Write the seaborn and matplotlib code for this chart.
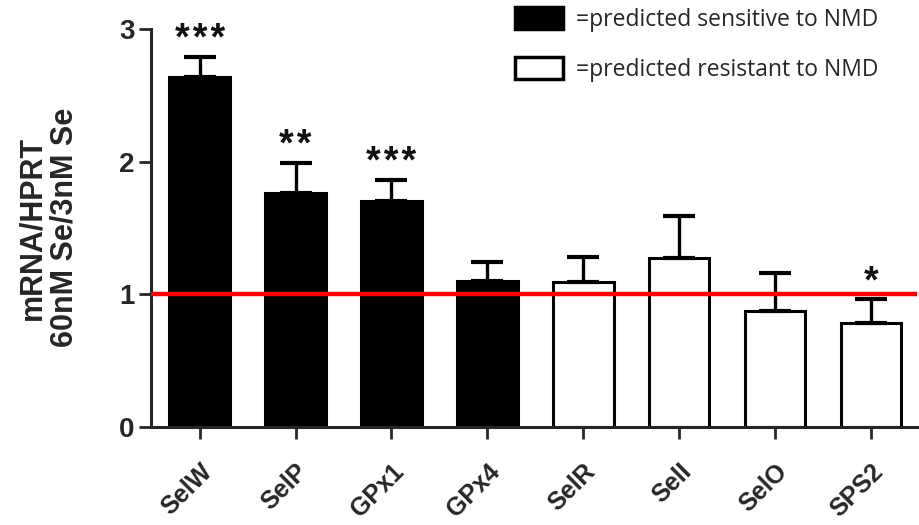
import numpy as np
import pandas as pd
import matplotlib
matplotlib.use("Agg")
import matplotlib.pyplot as plt
import seaborn as sns
from matplotlib.patches import Patch

genes = ["SelW", "SelP", "GPx1", "GPx4", "SelR", "SelI", "SelO", "SPS2"]
ratio = [2.64, 1.76, 1.70, 1.10, 1.09, 1.27, 0.87, 0.78]
sem = [0.15, 0.23, 0.16, 0.14, 0.19, 0.32, 0.29, 0.18]
group = ["sensitive"] * 4 + ["resistant"] * 4
stars = ["***", "**", "***", "", "", "", "", "*"]
legend_labels = ["=predicted sensitive to NMD", "=predicted resistant to NMD"]

df = pd.DataFrame({"gene": genes, "ratio": ratio, "sem": sem, "group": group})

sns.set_style("ticks")
plt.rcParams["font.family"] = ["Liberation Sans", "DejaVu Sans"]

fig = plt.figure(figsize=(9.19, 5.25), dpi=100)
ax = fig.add_axes([0.164, 0.187, 0.834, 0.758])

sns.barplot(data=df, x="gene", y="ratio", hue="group", dodge=False,
            palette={"sensitive": "black", "resistant": "white"},
            edgecolor="black", linewidth=2.2, width=0.63, legend=False, ax=ax)

# only the upper half of the error bar, like in Prism
x = np.arange(len(genes))
ax.errorbar(x, df["ratio"], yerr=[np.zeros(len(genes)), df["sem"]], fmt="none",
            ecolor="black", elinewidth=2.4, capsize=11.5, capthick=3, zorder=1)

for i, s in enumerate(stars):
    if s:
        # hair spaces so the stars sit a bit apart like in the original
        ax.text(i, df["ratio"][i] + df["sem"][i] - 0.01, "\u200a".join(s),
                ha="center", va="bottom", fontsize=27, fontweight="bold",
                color="#111111")

ax.axhline(1, color="#ff0000", lw=3.2, zorder=5)

ax.set_ylim(0, 3)
ax.set_xlim(-0.51, 7.48)
ax.set_yticks([0, 1, 2, 3])
ax.set_yticklabels(["0", "1", "2", "3"], fontsize=20, fontweight="bold")
ax.set_xticks(x)
ax.set_xticklabels(genes, rotation=45, ha="right", va="top", rotation_mode="anchor",
                   fontsize=18, fontweight="bold")
ax.tick_params(axis="both", length=8.5, width=2, direction="out")
ax.tick_params(axis="y", pad=3)
ax.tick_params(axis="x", pad=15)
ax.set_xlabel("")
ax.set_ylabel("mRNA/HPRT\n60nM Se/3nM Se", fontsize=22, fontweight="bold",
              linespacing=1.1)
ax.yaxis.set_label_coords(-0.093, 0.5)
for side in ["left", "bottom"]:
    ax.spines[side].set_linewidth(2.2)
sns.despine(ax=ax)

handles = [Patch(facecolor="black", edgecolor="black", lw=2.5),
           Patch(facecolor="white", edgecolor="black", lw=2.5)]
fig.legend(handles, legend_labels, loc="upper left", bbox_to_anchor=(0.548, 1.009),
           frameon=False, borderpad=0, handlelength=2.1, handleheight=1.1,
           labelspacing=1.12, handletextpad=0.55,
           prop={"family": ["Open Sans", "DejaVu Sans"], "size": 16.5})

fig.savefig("out.png", dpi=100)
